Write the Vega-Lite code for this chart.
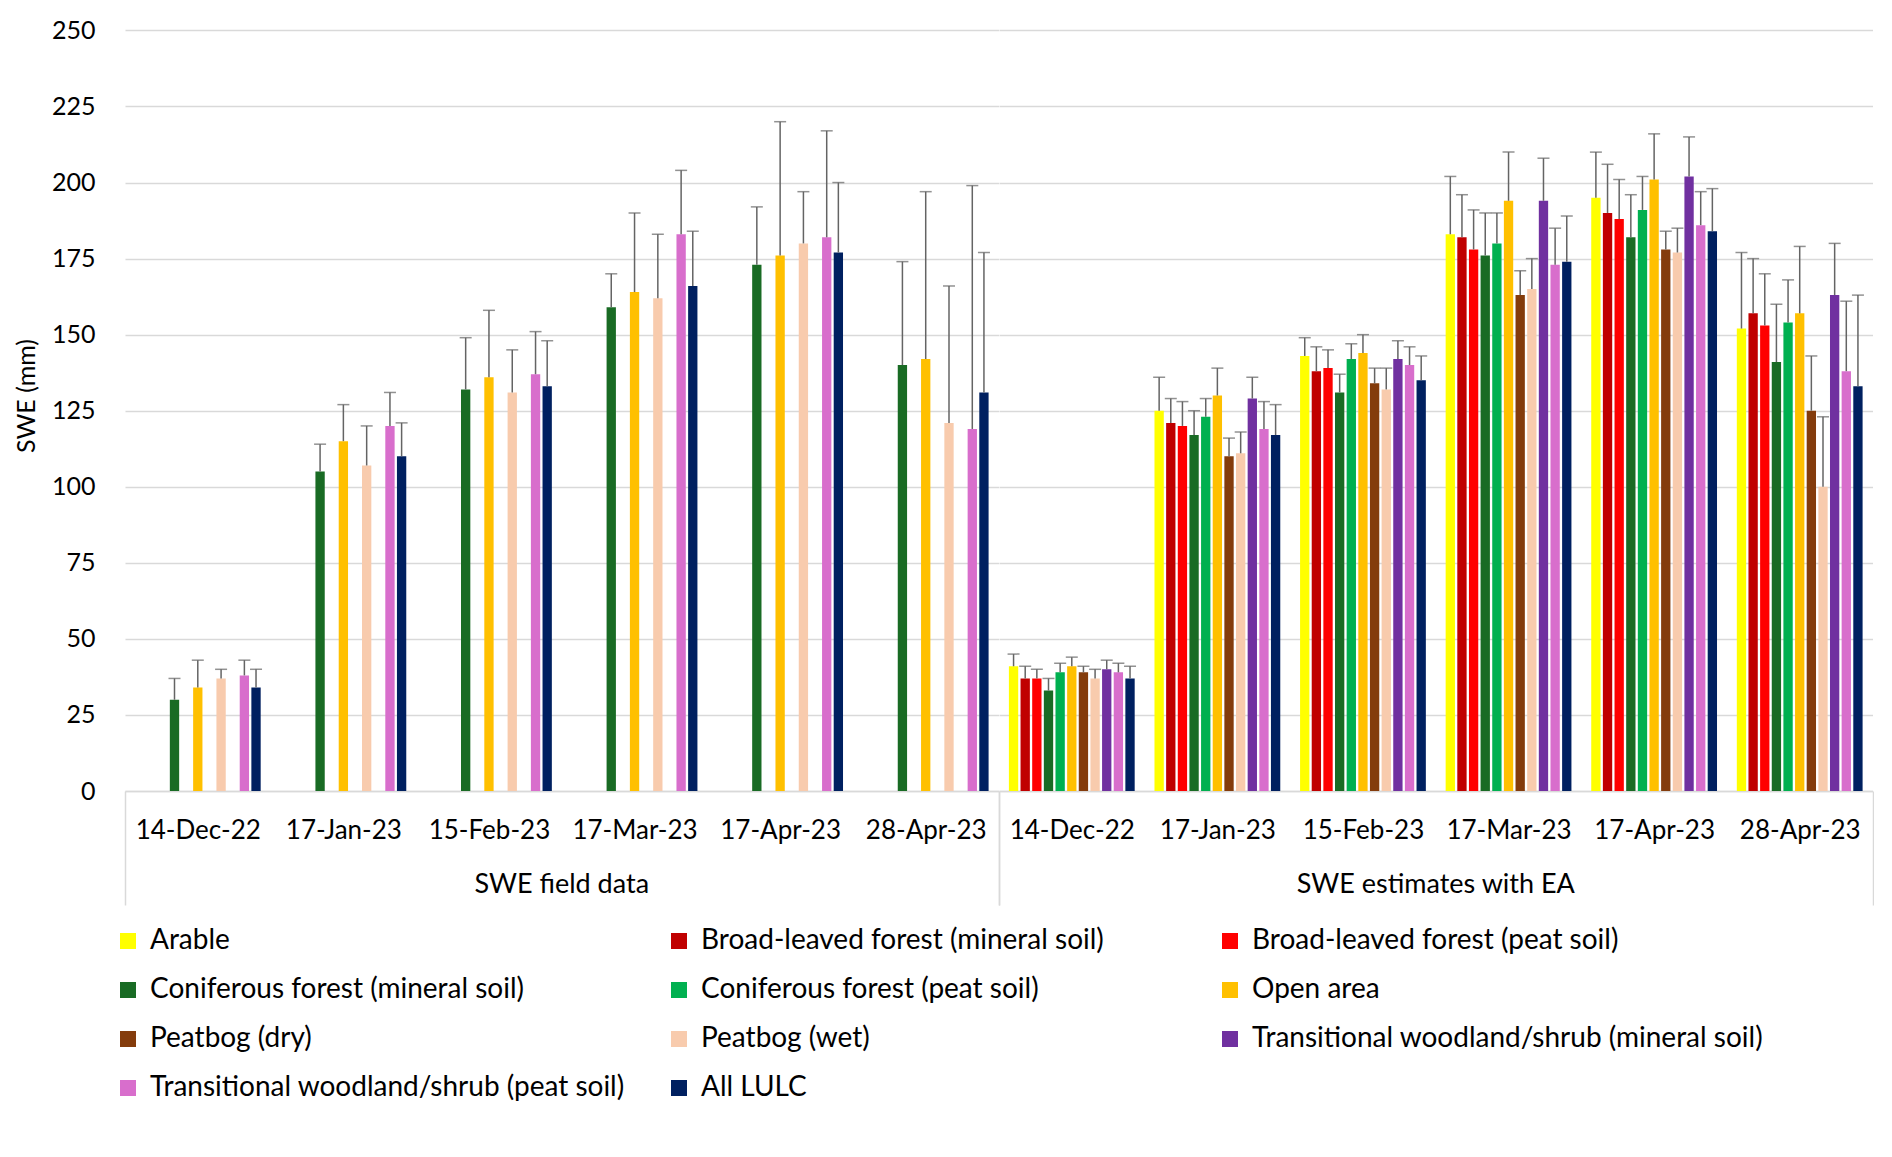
{
  "$schema": "https://vega.github.io/schema/vega-lite/v6.json",
  "padding": {"left": 14, "top": 0, "right": 0, "bottom": 0},
  "background": "white",
  "config": {"font": "Lato", "view": {"stroke": null}},
  "datasets": {
    "swe": [
      {"group": "SWE field data", "date": "14-Dec-22", "series": "Coniferous forest (mineral soil)", "value": 30, "upper": 37},
      {"group": "SWE field data", "date": "14-Dec-22", "series": "Open area", "value": 34, "upper": 43},
      {"group": "SWE field data", "date": "14-Dec-22", "series": "Peatbog (wet)", "value": 37, "upper": 40},
      {"group": "SWE field data", "date": "14-Dec-22", "series": "Transitional woodland/shrub (peat soil)", "value": 38, "upper": 43},
      {"group": "SWE field data", "date": "14-Dec-22", "series": "All LULC", "value": 34, "upper": 40},
      {"group": "SWE field data", "date": "17-Jan-23", "series": "Coniferous forest (mineral soil)", "value": 105, "upper": 114},
      {"group": "SWE field data", "date": "17-Jan-23", "series": "Open area", "value": 115, "upper": 127},
      {"group": "SWE field data", "date": "17-Jan-23", "series": "Peatbog (wet)", "value": 107, "upper": 120},
      {"group": "SWE field data", "date": "17-Jan-23", "series": "Transitional woodland/shrub (peat soil)", "value": 120, "upper": 131},
      {"group": "SWE field data", "date": "17-Jan-23", "series": "All LULC", "value": 110, "upper": 121},
      {"group": "SWE field data", "date": "15-Feb-23", "series": "Coniferous forest (mineral soil)", "value": 132, "upper": 149},
      {"group": "SWE field data", "date": "15-Feb-23", "series": "Open area", "value": 136, "upper": 158},
      {"group": "SWE field data", "date": "15-Feb-23", "series": "Peatbog (wet)", "value": 131, "upper": 145},
      {"group": "SWE field data", "date": "15-Feb-23", "series": "Transitional woodland/shrub (peat soil)", "value": 137, "upper": 151},
      {"group": "SWE field data", "date": "15-Feb-23", "series": "All LULC", "value": 133, "upper": 148},
      {"group": "SWE field data", "date": "17-Mar-23", "series": "Coniferous forest (mineral soil)", "value": 159, "upper": 170},
      {"group": "SWE field data", "date": "17-Mar-23", "series": "Open area", "value": 164, "upper": 190},
      {"group": "SWE field data", "date": "17-Mar-23", "series": "Peatbog (wet)", "value": 162, "upper": 183},
      {"group": "SWE field data", "date": "17-Mar-23", "series": "Transitional woodland/shrub (peat soil)", "value": 183, "upper": 204},
      {"group": "SWE field data", "date": "17-Mar-23", "series": "All LULC", "value": 166, "upper": 184},
      {"group": "SWE field data", "date": "17-Apr-23", "series": "Coniferous forest (mineral soil)", "value": 173, "upper": 192},
      {"group": "SWE field data", "date": "17-Apr-23", "series": "Open area", "value": 176, "upper": 220},
      {"group": "SWE field data", "date": "17-Apr-23", "series": "Peatbog (wet)", "value": 180, "upper": 197},
      {"group": "SWE field data", "date": "17-Apr-23", "series": "Transitional woodland/shrub (peat soil)", "value": 182, "upper": 217},
      {"group": "SWE field data", "date": "17-Apr-23", "series": "All LULC", "value": 177, "upper": 200},
      {"group": "SWE field data", "date": "28-Apr-23", "series": "Coniferous forest (mineral soil)", "value": 140, "upper": 174},
      {"group": "SWE field data", "date": "28-Apr-23", "series": "Open area", "value": 142, "upper": 197},
      {"group": "SWE field data", "date": "28-Apr-23", "series": "Peatbog (wet)", "value": 121, "upper": 166},
      {"group": "SWE field data", "date": "28-Apr-23", "series": "Transitional woodland/shrub (peat soil)", "value": 119, "upper": 199},
      {"group": "SWE field data", "date": "28-Apr-23", "series": "All LULC", "value": 131, "upper": 177},

      {"group": "SWE estimates with EA", "date": "14-Dec-22", "series": "Arable", "value": 41, "upper": 45},
      {"group": "SWE estimates with EA", "date": "14-Dec-22", "series": "Broad-leaved forest (mineral soil)", "value": 37, "upper": 41},
      {"group": "SWE estimates with EA", "date": "14-Dec-22", "series": "Broad-leaved forest (peat soil)", "value": 37, "upper": 40},
      {"group": "SWE estimates with EA", "date": "14-Dec-22", "series": "Coniferous forest (mineral soil)", "value": 33, "upper": 37},
      {"group": "SWE estimates with EA", "date": "14-Dec-22", "series": "Coniferous forest (peat soil)", "value": 39, "upper": 42},
      {"group": "SWE estimates with EA", "date": "14-Dec-22", "series": "Open area", "value": 41, "upper": 44},
      {"group": "SWE estimates with EA", "date": "14-Dec-22", "series": "Peatbog (dry)", "value": 39, "upper": 41},
      {"group": "SWE estimates with EA", "date": "14-Dec-22", "series": "Peatbog (wet)", "value": 37, "upper": 40},
      {"group": "SWE estimates with EA", "date": "14-Dec-22", "series": "Transitional woodland/shrub (mineral soil)", "value": 40, "upper": 43},
      {"group": "SWE estimates with EA", "date": "14-Dec-22", "series": "Transitional woodland/shrub (peat soil)", "value": 39, "upper": 42},
      {"group": "SWE estimates with EA", "date": "14-Dec-22", "series": "All LULC", "value": 37, "upper": 41},

      {"group": "SWE estimates with EA", "date": "17-Jan-23", "series": "Arable", "value": 125, "upper": 136},
      {"group": "SWE estimates with EA", "date": "17-Jan-23", "series": "Broad-leaved forest (mineral soil)", "value": 121, "upper": 129},
      {"group": "SWE estimates with EA", "date": "17-Jan-23", "series": "Broad-leaved forest (peat soil)", "value": 120, "upper": 128},
      {"group": "SWE estimates with EA", "date": "17-Jan-23", "series": "Coniferous forest (mineral soil)", "value": 117, "upper": 125},
      {"group": "SWE estimates with EA", "date": "17-Jan-23", "series": "Coniferous forest (peat soil)", "value": 123, "upper": 129},
      {"group": "SWE estimates with EA", "date": "17-Jan-23", "series": "Open area", "value": 130, "upper": 139},
      {"group": "SWE estimates with EA", "date": "17-Jan-23", "series": "Peatbog (dry)", "value": 110, "upper": 116},
      {"group": "SWE estimates with EA", "date": "17-Jan-23", "series": "Peatbog (wet)", "value": 111, "upper": 118},
      {"group": "SWE estimates with EA", "date": "17-Jan-23", "series": "Transitional woodland/shrub (mineral soil)", "value": 129, "upper": 136},
      {"group": "SWE estimates with EA", "date": "17-Jan-23", "series": "Transitional woodland/shrub (peat soil)", "value": 119, "upper": 128},
      {"group": "SWE estimates with EA", "date": "17-Jan-23", "series": "All LULC", "value": 117, "upper": 127},

      {"group": "SWE estimates with EA", "date": "15-Feb-23", "series": "Arable", "value": 143, "upper": 149},
      {"group": "SWE estimates with EA", "date": "15-Feb-23", "series": "Broad-leaved forest (mineral soil)", "value": 138, "upper": 146},
      {"group": "SWE estimates with EA", "date": "15-Feb-23", "series": "Broad-leaved forest (peat soil)", "value": 139, "upper": 145},
      {"group": "SWE estimates with EA", "date": "15-Feb-23", "series": "Coniferous forest (mineral soil)", "value": 131, "upper": 137},
      {"group": "SWE estimates with EA", "date": "15-Feb-23", "series": "Coniferous forest (peat soil)", "value": 142, "upper": 147},
      {"group": "SWE estimates with EA", "date": "15-Feb-23", "series": "Open area", "value": 144, "upper": 150},
      {"group": "SWE estimates with EA", "date": "15-Feb-23", "series": "Peatbog (dry)", "value": 134, "upper": 139},
      {"group": "SWE estimates with EA", "date": "15-Feb-23", "series": "Peatbog (wet)", "value": 132, "upper": 139},
      {"group": "SWE estimates with EA", "date": "15-Feb-23", "series": "Transitional woodland/shrub (mineral soil)", "value": 142, "upper": 148},
      {"group": "SWE estimates with EA", "date": "15-Feb-23", "series": "Transitional woodland/shrub (peat soil)", "value": 140, "upper": 146},
      {"group": "SWE estimates with EA", "date": "15-Feb-23", "series": "All LULC", "value": 135, "upper": 143},

      {"group": "SWE estimates with EA", "date": "17-Mar-23", "series": "Arable", "value": 183, "upper": 202},
      {"group": "SWE estimates with EA", "date": "17-Mar-23", "series": "Broad-leaved forest (mineral soil)", "value": 182, "upper": 196},
      {"group": "SWE estimates with EA", "date": "17-Mar-23", "series": "Broad-leaved forest (peat soil)", "value": 178, "upper": 191},
      {"group": "SWE estimates with EA", "date": "17-Mar-23", "series": "Coniferous forest (mineral soil)", "value": 176, "upper": 190},
      {"group": "SWE estimates with EA", "date": "17-Mar-23", "series": "Coniferous forest (peat soil)", "value": 180, "upper": 190},
      {"group": "SWE estimates with EA", "date": "17-Mar-23", "series": "Open area", "value": 194, "upper": 210},
      {"group": "SWE estimates with EA", "date": "17-Mar-23", "series": "Peatbog (dry)", "value": 163, "upper": 171},
      {"group": "SWE estimates with EA", "date": "17-Mar-23", "series": "Peatbog (wet)", "value": 165, "upper": 175},
      {"group": "SWE estimates with EA", "date": "17-Mar-23", "series": "Transitional woodland/shrub (mineral soil)", "value": 194, "upper": 208},
      {"group": "SWE estimates with EA", "date": "17-Mar-23", "series": "Transitional woodland/shrub (peat soil)", "value": 173, "upper": 185},
      {"group": "SWE estimates with EA", "date": "17-Mar-23", "series": "All LULC", "value": 174, "upper": 189},

      {"group": "SWE estimates with EA", "date": "17-Apr-23", "series": "Arable", "value": 195, "upper": 210},
      {"group": "SWE estimates with EA", "date": "17-Apr-23", "series": "Broad-leaved forest (mineral soil)", "value": 190, "upper": 206},
      {"group": "SWE estimates with EA", "date": "17-Apr-23", "series": "Broad-leaved forest (peat soil)", "value": 188, "upper": 201},
      {"group": "SWE estimates with EA", "date": "17-Apr-23", "series": "Coniferous forest (mineral soil)", "value": 182, "upper": 196},
      {"group": "SWE estimates with EA", "date": "17-Apr-23", "series": "Coniferous forest (peat soil)", "value": 191, "upper": 202},
      {"group": "SWE estimates with EA", "date": "17-Apr-23", "series": "Open area", "value": 201, "upper": 216},
      {"group": "SWE estimates with EA", "date": "17-Apr-23", "series": "Peatbog (dry)", "value": 178, "upper": 184},
      {"group": "SWE estimates with EA", "date": "17-Apr-23", "series": "Peatbog (wet)", "value": 177, "upper": 185},
      {"group": "SWE estimates with EA", "date": "17-Apr-23", "series": "Transitional woodland/shrub (mineral soil)", "value": 202, "upper": 215},
      {"group": "SWE estimates with EA", "date": "17-Apr-23", "series": "Transitional woodland/shrub (peat soil)", "value": 186, "upper": 197},
      {"group": "SWE estimates with EA", "date": "17-Apr-23", "series": "All LULC", "value": 184, "upper": 198},

      {"group": "SWE estimates with EA", "date": "28-Apr-23", "series": "Arable", "value": 152, "upper": 177},
      {"group": "SWE estimates with EA", "date": "28-Apr-23", "series": "Broad-leaved forest (mineral soil)", "value": 157, "upper": 175},
      {"group": "SWE estimates with EA", "date": "28-Apr-23", "series": "Broad-leaved forest (peat soil)", "value": 153, "upper": 170},
      {"group": "SWE estimates with EA", "date": "28-Apr-23", "series": "Coniferous forest (mineral soil)", "value": 141, "upper": 160},
      {"group": "SWE estimates with EA", "date": "28-Apr-23", "series": "Coniferous forest (peat soil)", "value": 154, "upper": 168},
      {"group": "SWE estimates with EA", "date": "28-Apr-23", "series": "Open area", "value": 157, "upper": 179},
      {"group": "SWE estimates with EA", "date": "28-Apr-23", "series": "Peatbog (dry)", "value": 125, "upper": 143},
      {"group": "SWE estimates with EA", "date": "28-Apr-23", "series": "Peatbog (wet)", "value": 100, "upper": 123},
      {"group": "SWE estimates with EA", "date": "28-Apr-23", "series": "Transitional woodland/shrub (mineral soil)", "value": 163, "upper": 180},
      {"group": "SWE estimates with EA", "date": "28-Apr-23", "series": "Transitional woodland/shrub (peat soil)", "value": 138, "upper": 161},
      {"group": "SWE estimates with EA", "date": "28-Apr-23", "series": "All LULC", "value": 133, "upper": 163}
    ]
  },
  "data": {"name": "swe"},
  "facet": {
    "column": {
      "field": "group",
      "type": "nominal",
      "sort": ["SWE field data", "SWE estimates with EA"],
      "header": {
        "title": null,
        "labelOrient": "bottom",
        "labelFont": "Lato",
        "labelFontSize": 27,
        "labelColor": "#000000",
        "labelPadding": -34
      }
    }
  },
  "spacing": 0,
  "spec": {
    "width": 873.5,
    "height": 791,
    "encoding": {
      "x": {
        "field": "date",
        "type": "nominal",
        "sort": ["14-Dec-22", "17-Jan-23", "15-Feb-23", "17-Mar-23", "17-Apr-23", "28-Apr-23"],
        "scale": {"paddingInner": 0, "paddingOuter": 0},
        "axis": {
          "title": null,
          "labelAngle": 0,
          "labelFont": "Lato",
          "labelFontSize": 26,
          "labelColor": "#000000",
          "labelPadding": -88,
          "tickBand": "extent",
          "tickSize": 114,
          "tickColor": "#d9d9d9",
          "tickWidth": 1.5,
          "tickOpacity": {"condition": {"test": "datum.index < 0 || datum.index == 1", "value": 1}, "value": 0},
          "domainColor": "#d9d9d9",
          "domainWidth": 1.5,
          "grid": false
        }
      },
      "xOffset": {
        "field": "series",
        "type": "nominal",
        "scale": {
          "domain": ["Arable", "Broad-leaved forest (mineral soil)", "Broad-leaved forest (peat soil)", "Coniferous forest (mineral soil)", "Coniferous forest (peat soil)", "Open area", "Peatbog (dry)", "Peatbog (wet)", "Transitional woodland/shrub (mineral soil)", "Transitional woodland/shrub (peat soil)", "All LULC"],
          "paddingInner": 0.2,
          "paddingOuter": 0.85
        }
      }
    },
    "layer": [
      {
        "mark": {"type": "bar"},
        "encoding": {
          "y": {
            "field": "value",
            "type": "quantitative",
            "title": "SWE (mm)",
            "scale": {"domain": [0, 250]},
            "axis": {
              "values": [0, 25, 50, 75, 100, 125, 150, 175, 200, 225, 250],
              "labelFont": "Lato",
              "labelFontSize": 25,
              "labelColor": "#000000",
              "labelPadding": 30,
              "ticks": false,
              "domain": false,
              "gridColor": "#d9d9d9",
              "gridWidth": 1.5,
              "titleFont": "Lato",
              "titleFontSize": 25,
              "titleFontWeight": "normal",
              "titleColor": "#000000",
              "titlePadding": 12
            }
          },
          "color": {
            "field": "series",
            "type": "nominal",
            "scale": {
              "domain": ["Arable", "Broad-leaved forest (mineral soil)", "Broad-leaved forest (peat soil)", "Coniferous forest (mineral soil)", "Coniferous forest (peat soil)", "Open area", "Peatbog (dry)", "Peatbog (wet)", "Transitional woodland/shrub (mineral soil)", "Transitional woodland/shrub (peat soil)", "All LULC"],
              "range": ["#FFFF00", "#C00000", "#FF0000", "#196B24", "#00B050", "#FFC000", "#843C0C", "#F8CBAD", "#7030A0", "#D86ECC", "#002060"]
            },
            "legend": {
              "orient": "none",
              "legendX": -11,
              "legendY": 927,
              "title": null,
              "columns": 3,
              "direction": "horizontal",
              "gridAlign": "all",
              "symbolType": "square",
              "symbolSize": 256,
              "symbolStrokeWidth": 0,
              "labelFont": "Lato",
              "labelFontSize": 28,
              "labelColor": "#000000",
              "labelLimit": 1000,
              "labelOffset": 8,
              "rowPadding": 21,
              "columnPadding": 3
            }
          }
        }
      },
      {
        "mark": {"type": "rule", "color": "#646464", "strokeWidth": 1.5},
        "encoding": {
          "y": {"field": "value", "type": "quantitative", "title": "SWE (mm)"},
          "y2": {"field": "upper"}
        }
      },
      {
        "mark": {"type": "tick", "color": "#646464", "thickness": 1.5, "size": 12},
        "encoding": {
          "y": {"field": "upper", "type": "quantitative", "title": "SWE (mm)"}
        }
      }
    ]
  }
}
